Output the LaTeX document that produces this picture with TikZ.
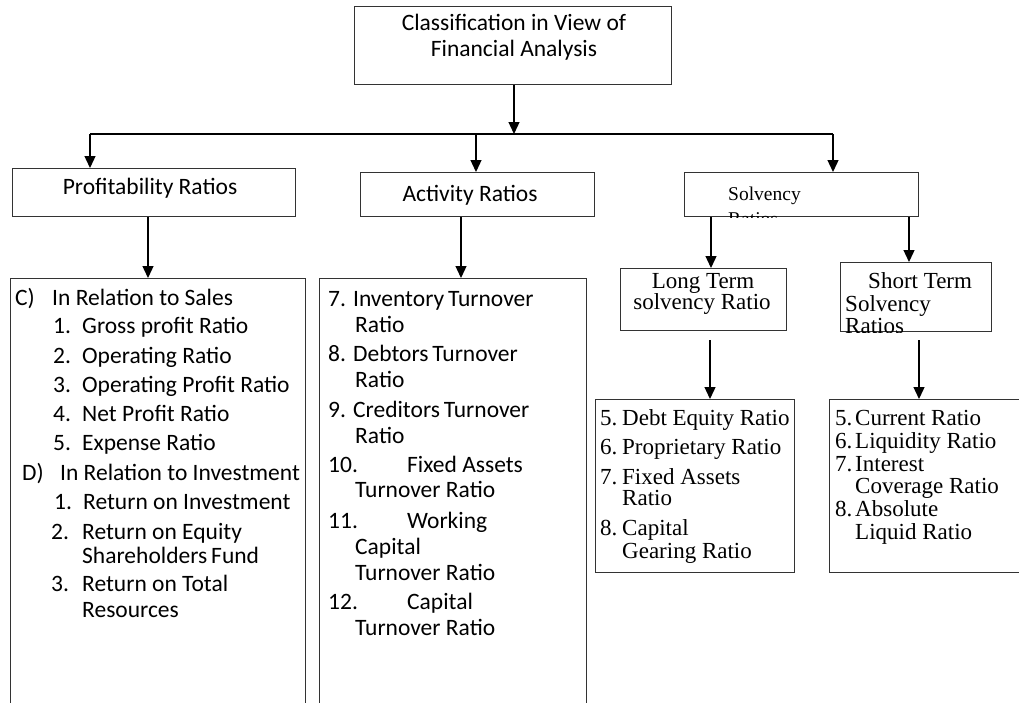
\documentclass[tikz,border=0pt]{standalone}
\usepackage{fontspec}
\setmainfont{Carlito}
\newfontfamily\cambfont{Liberation Serif}
\usetikzlibrary{calc,positioning,arrows,arrows.meta,shapes}

\begin{document}
\begin{tikzpicture}[x=1pt,y=-1pt,
  box/.style={draw=black!80, line width=1.3pt, rectangle, inner sep=0pt, anchor=north west},
  arr/.style={-{Triangle[length=12pt,width=11pt]}, line width=1.3pt},
  item/.style={anchor=west, inner sep=0pt, text height=16pt, text depth=5pt, yshift=-3pt,
    font=\fontsize{23.5}{26}\selectfont},
  sitem/.style={item, font=\cambfont\fontsize{23}{23}\selectfont}]
\useasboundingbox (0,0) rectangle (1019,702);

% top box
\node[box, minimum width=317pt, minimum height=78pt] (fin) at (354,6) {};
\node[item, anchor=center] (fin text) at (514,22) {Classification in View of};
\node[item, anchor=center] (fin text2) at (514,48) {Financial Analysis};

% second row
\node[box, minimum width=283pt, minimum height=48pt] (prof) at (12,168) {};
\node[item, anchor=center] (prof text) at (150,186) {Profitability Ratios};
\node[box, minimum width=234pt, minimum height=44pt] (act) at (360,172) {};
\node[item, anchor=center] (act text) at (470,193) {Activity Ratios};
\node[box, minimum width=234pt, minimum height=44pt] (solv) at (684,172) {};
\node[sitem, font=\cambfont\fontsize{19.5}{21}\selectfont] (solv text) at (728,192) {Solvency};
\begin{scope}
\clip (solv.north west) rectangle (solv.south east);
\node[sitem, font=\cambfont\fontsize{19.5}{21}\selectfont] (solv more) at (728,216.5) {Ratios};
\end{scope}

% bus from top box
\coordinate (busL) at (90,134);
\coordinate (busM) at (514,134);
\coordinate (busA) at (476,134);
\coordinate (busR) at (833,134);
\draw[arr] (fin.south -| busM) -- (busM);
\draw[line width=1.3pt] (busL) -- (busR);
\draw[arr] (busL) -- (busL |- prof.north);
\draw[arr] (busA) -- (busA |- act.north);
\draw[arr] (busR) -- (busR |- solv.north);

% solvency split
\node[box, minimum width=166pt, minimum height=62pt] (long) at (620,268) {};
\node[sitem, anchor=center] (long text) at (703,280) {Long Term};
\node[sitem, anchor=center] (long text2) at (702,301) {solvency Ratio};
\node[box, minimum width=151pt, minimum height=69pt] (short) at (840,262) {};
\node[sitem] (short text) at (868,280) {Short Term};
\begin{scope}
\clip (short.north west) rectangle (short.south east);
\node[sitem] (short more) at (845,303) {Solvency};
\node[sitem] (short last) at (845,325) {Ratios};
\end{scope}
\draw[arr] (solv.south -| 711,0) -- (long.north -| 711,0);
\draw[arr] (solv.south -| 909,0) -- (short.north -| 909,0);

% list boxes
\node[box, minimum width=295pt, minimum height=442pt] (prof list) at (10,278) {};
\node[box, minimum width=267pt, minimum height=442pt] (act list) at (319,278) {};
\node[box, minimum width=199pt, minimum height=173pt] (long list) at (595,399) {};
\node[box, minimum width=196pt, minimum height=173pt] (short list) at (829,399) {};
\draw[arr] (prof.south -| 148,0) -- (prof list.north -| 148,0);
\draw[arr] (act.south -| 461,0) -- (act list.north -| 461,0);
\draw[arr] ([yshift=-9pt]long.south -| 710,0) -- (long list.north -| 710,0);
\draw[arr] ([yshift=-8pt]short.south -| 919,0) -- (short list.north -| 919,0);

% profitability items
\node[item] (sales) at (15,297) {\makebox[37pt][l]{C)}In Relation to Sales};
\node[item] (sales1) at (53,325) {\makebox[29pt][l]{1.}Gross profit Ratio};
\node[item] (sales2) at (53,355) {\makebox[29pt][l]{2.}Operating Ratio};
\node[item] (sales3) at (53,384) {\makebox[29pt][l]{3.}Operating Profit Ratio};
\node[item] (sales4) at (53,413) {\makebox[29pt][l]{4.}Net Profit Ratio};
\node[item] (sales5) at (53,442) {\makebox[29pt][l]{5.}Expense Ratio};
\node[item] (inv) at (22,472) {\makebox[38pt][l]{D)}In Relation to Investment};
\node[item] (inv1) at (54,501) {\makebox[29pt][l]{1.}Return on Investment};
\node[item] (inv2) at (51,531) {\makebox[31pt][l]{2.}Return on Equity};
\node[item] (inv2b) at (82,555) {Shareholders\,Fund};
\node[item] (inv3) at (51,583) {\makebox[31pt][l]{3.}Return on Total};
\node[item] (inv3b) at (82,609) {Resources};

% activity items
\node[item] (act7) at (328,298) {7. Inventory\,Turnover};
\node[item] (act7b) at (355,324) {Ratio};
\node[item] (act8) at (328,353) {8. Debtors\,Turnover};
\node[item] (act8b) at (355,379) {Ratio};
\node[item] (act9) at (328,409) {9. Creditors\,Turnover};
\node[item] (act9b) at (355,435) {Ratio};
\node[item] (act10) at (328,464) {\makebox[79pt][l]{10.}Fixed Assets};
\node[item] (act10b) at (355,489) {Turnover Ratio};
\node[item] (act11) at (328,520) {\makebox[79pt][l]{11.}Working};
\node[item] (act11b) at (355,546) {Capital};
\node[item] (act11c) at (355,572) {Turnover Ratio};
\node[item] (act12) at (328,601) {\makebox[79pt][l]{12.}Capital};
\node[item] (act12b) at (355,627) {Turnover Ratio};

% long term items
\node[sitem] (lt5) at (600,417) {\makebox[22pt][l]{5.}Debt Equity Ratio};
\node[sitem] (lt6) at (600,446) {\makebox[22pt][l]{6.}Proprietary Ratio};
\node[sitem] (lt7) at (600,476) {\makebox[22pt][l]{7.}Fixed Assets};
\node[sitem] (lt7b) at (622,497) {Ratio};
\node[sitem] (lt8) at (600,527) {\makebox[22pt][l]{8.}Capital};
\node[sitem] (lt8b) at (622,550) {Gearing Ratio};

% short term items
\node[sitem] (st5) at (835,417) {\makebox[20pt][l]{5.}Current Ratio};
\node[sitem] (st6) at (835,440) {\makebox[20pt][l]{6.}Liquidity Ratio};
\node[sitem] (st7) at (835,463) {\makebox[20pt][l]{7.}Interest};
\node[sitem] (st7b) at (855,485) {Coverage Ratio};
\node[sitem] (st8) at (835,508) {\makebox[20pt][l]{8.}Absolute};
\node[sitem] (st8b) at (855,531) {Liquid Ratio};

\end{tikzpicture}
\end{document}
